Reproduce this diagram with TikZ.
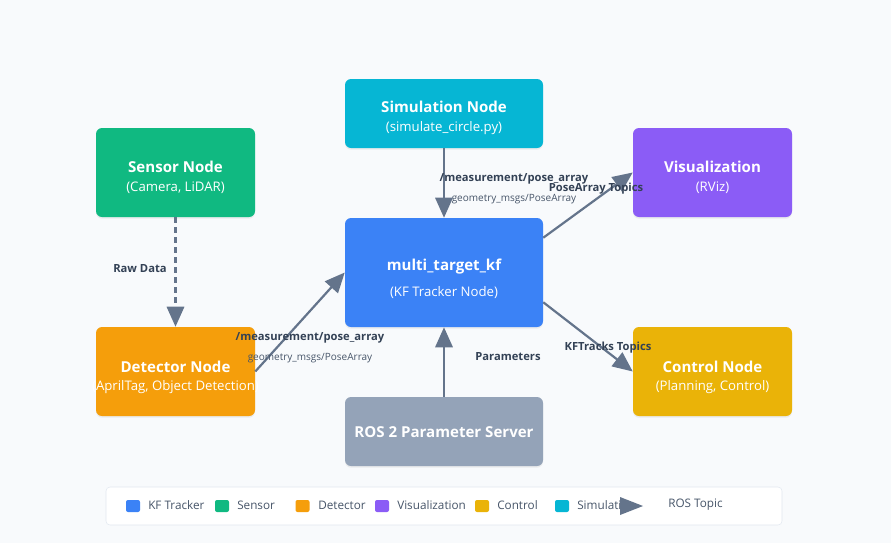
\documentclass[tikz,border=0pt]{standalone}
\usepackage{fontspec}
\setmainfont{Open Sans}
\usetikzlibrary{arrows.meta,shadows,calc}
\definecolor{bg}{HTML}{F8FAFC}
\definecolor{cKF}{HTML}{3B82F6}
\definecolor{cSensor}{HTML}{10B981}
\definecolor{cDet}{HTML}{F59E0B}
\definecolor{cVis}{HTML}{8B5CF6}
\definecolor{cCtrl}{HTML}{EAB308}
\definecolor{cSim}{HTML}{06B6D4}
\definecolor{cParam}{HTML}{94A3B8}
\definecolor{edge}{HTML}{64748B}
\definecolor{lbl}{HTML}{334155}
\definecolor{sublbl}{HTML}{475569}
\definecolor{legborder}{HTML}{E2E8F0}
\tikzset{
  box/.style={rounded corners=4.5pt, inner sep=0pt, draw=none,
    drop shadow={opacity=0.12, shadow xshift=0pt, shadow yshift=-1.2pt}},
  smallbox/.style={box, minimum width=159*0.75pt, minimum height=89*0.75pt},
  widebox/.style={box, minimum width=198*0.75pt, minimum height=69*0.75pt},
  ttl/.style={text=white, font=\fontsize{11.3}{13}\selectfont\bfseries, inner sep=0pt},
  sub/.style={text=white, font=\fontsize{9.9}{11}\selectfont, inner sep=0pt},
  elabel/.style={text=lbl, font=\fontsize{8.4}{10}\selectfont\bfseries, inner sep=0pt},
  esub/.style={text=sublbl, font=\fontsize{7.5}{9}\selectfont, inner sep=0pt},
  conn/.style={draw=edge, line width=2.2pt*0.75, -{Triangle[length=15pt, width=13pt]}},
  legsq/.style={rounded corners=1.5pt, inner sep=0pt, minimum width=14*0.75pt, minimum height=12*0.75pt},
  legtxt/.style={text=sublbl, font=\fontsize{8.8}{10}\selectfont, inner sep=0pt, anchor=west},
}
\begin{document}
\begin{tikzpicture}[x=0.75pt,y=-0.75pt]
\fill[bg] (0,0) rectangle (891,543);
\useasboundingbox (0,0) rectangle (891,543);

% boxes
\node[smallbox, fill=cSensor] (sensor) at (175.5,172.5) {};
\node[smallbox, fill=cDet] (det) at (175.5,371.5) {};
\node[widebox, fill=cSim] (sim) at (444,113.5) {};
\node[box, fill=cKF, minimum width=198*0.75pt, minimum height=109*0.75pt] (kf) at (444,272.5) {};
\node[smallbox, fill=cVis] (vis) at (712.5,172.5) {};
\node[smallbox, fill=cCtrl] (ctrl) at (712.5,371.5) {};
\node[widebox, fill=cParam] (param) at (444,431.5) {};

% box texts
\node[ttl] (sensorT) at (175.5,167) {Sensor Node};
\node[sub] (sensorS) at (175.5,188) {(Camera, LiDAR)};
\node[ttl] (detT) at (175.5,367) {Detector Node};
\node[sub] (detS) at (175.5,387) {(AprilTag, Object Detection)};
\node[ttl] (simT) at (444,107) {Simulation Node};
\node[sub] (simS) at (444,128) {(simulate\_circle.py)};
\node[ttl] (kfT) at (444,267) {multi\_target\_kf};
\node[sub] (kfS) at (444,293) {(KF Tracker Node)};
\node[ttl] (visT) at (712.5,167) {Visualization};
\node[sub] (visS) at (712.5,188) {(RViz)};
\node[ttl] (ctrlT) at (712.5,367) {Control Node};
\node[sub] (ctrlS) at (712.5,387) {(Planning, Control)};
\node[ttl] (paramT) at (444,432) {ROS 2 Parameter Server};

% connectors
\draw[conn, dashed, dash pattern=on 4.5pt off 3pt] (sensor.south) -- (det.north);
\draw[conn] (sim.south) -- (kf.north);
\draw[conn] (det.east) -- (kf.west);
\coordinate (kfUp) at ($(kf.north east)+(0,20)$);
\coordinate (kfDn) at ($(kf.south east)+(0,-25)$);
\draw[conn] (kfUp) -- (vis.west);
\draw[conn] (kfDn) -- (ctrl.west);
\draw[conn] (param.north) -- (kf.south);

% connector labels
\node[elabel] (lraw) at (140,269) {Raw Data};
\node[elabel] (lsim1) at (514,179) {/measurement/pose\_array};
\node[esub] (lsim2) at (514,199) {geometry\_msgs/PoseArray};
\node[elabel] (ldet1) at (310,338) {/measurement/pose\_array};
\node[esub] (ldet2) at (310,358) {geometry\_msgs/PoseArray};
\node[elabel] (lvis) at (596,189) {PoseArray Topics};
\node[elabel] (lctrl) at (608,348) {KFTracks Topics};
\node[elabel] (lparam) at (508,357) {Parameters};

% legend
\node[draw=legborder, fill=white, rounded corners=3pt, minimum width=676*0.75pt, minimum height=38*0.75pt, inner sep=0pt] (legend) at (444,506) {};
\node[legsq, fill=cKF] (lg1) at (133,506) {};
\node[legtxt] (lt1) at (148,505) {KF Tracker};
\node[legsq, fill=cSensor] (lg2) at (222,506) {};
\node[legtxt] (lt2) at (237,505) {Sensor};
\node[legsq, fill=cDet] (lg3) at (302.5,506) {};
\node[legtxt] (lt3) at (318,505) {Detector};
\node[legsq, fill=cVis] (lg4) at (382,506) {};
\node[legtxt] (lt4) at (397,505) {Visualization};
\node[legsq, fill=cCtrl] (lg5) at (482,506) {};
\node[legtxt] (lt5) at (497,505) {Control};
\node[legsq, fill=cSim] (lg6) at (562,506) {};
\node[legtxt] (lt6) at (577,505) {Simulation};
\fill[edge] (620,497) -- (643,506) -- (620,515) -- cycle;
\node[legtxt] (lt7) at (668,505) {ROS Topic};
\end{tikzpicture}
\end{document}
